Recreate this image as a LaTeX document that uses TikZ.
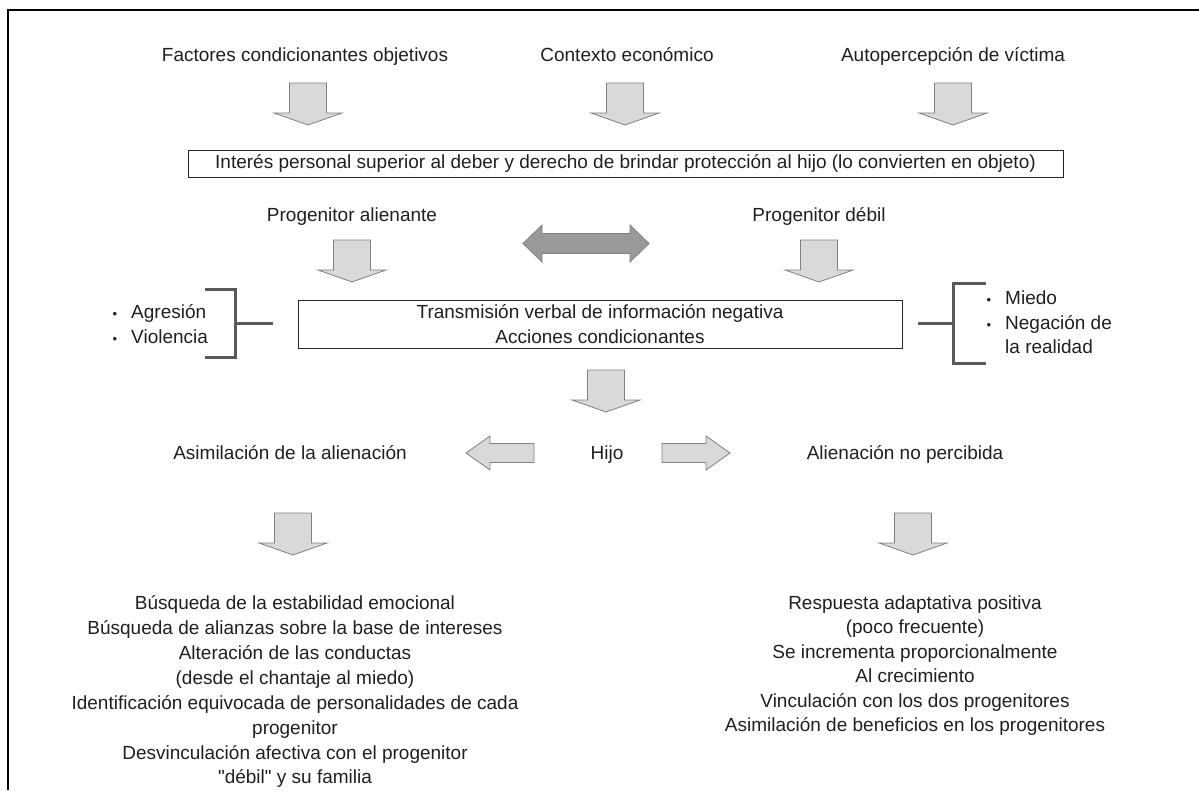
\documentclass[tikz,border=0pt]{standalone}
\usepackage{fontspec}
\setmainfont{Liberation Sans}[Ligatures=TeXOff]
\begin{document}
\begin{tikzpicture}[x=1pt,y=-1pt,
  txt/.style={inner sep=0pt,anchor=base,text=black!88},
  blk/.style={fill=black!15,draw=black!50,line width=0.8pt,line join=miter},
  dbl/.style={fill=black!40,draw=black!50,line width=0.8pt},
  brk/.style={draw=black!65,line width=3pt},
  boxn/.style={draw=black!85,line width=1pt,inner sep=0pt,text=black!88}]
\useasboundingbox (0,0) rectangle (1199,790);
\fontsize{19}{25}\selectfont
% frame
\draw[line width=1.6pt] (8,790) -- (8,10) -- (1199,10);
% blocks
\newcommand\blkdown[2]{\draw[blk,shift={(#1,#2)}] (-18.5,0) -- (18.5,0) -- (18.5,30) -- (34,30) -- (0,42) -- (-34,30) -- (-18.5,30) -- cycle;}
% row 1
\node[txt] (t1) at (305,61) {Factores condicionantes objetivos};
\node[txt] (t2) at (627,61) {Contexto económico};
\node[txt] (t3) at (953,61) {Autopercepción de víctima};
\blkdown{308}{83}
\blkdown{625}{83}
\blkdown{953}{83}
\node[boxn,minimum width=875pt,minimum height=27pt] (b1) at (625.5,163.5)
  {Interés personal superior al deber y derecho de brindar protección al hijo (lo convierten en objeto)};
% row 2
\node[txt] (pa) at (352,221) {Progenitor alienante};
\node[txt] (pd) at (819,221) {Progenitor débil};
\draw[dbl] (523,243.5) -- (542,225) -- (542,233.5) -- (630,233.5) -- (630,225) -- (649,243.5)
  -- (630,262) -- (630,253.5) -- (542,253.5) -- (542,262) -- cycle;
\blkdown{352}{240}
\blkdown{819}{240}
\node[boxn,minimum width=604pt,minimum height=48pt,align=center] (b2) at (600,324)
  {Transmisión verbal de información negativa\\Acciones condicionantes};
% left bracket
\draw[brk] (205,289) -- (235,289) -- (235,357) -- (205,357);
\draw[brk] (235,323) -- (273,323);
\node[txt] (bl1) at (115,318) {\fontsize{13}{15}\selectfont •};
\node[txt] (bl2) at (115,343) {\fontsize{13}{15}\selectfont •};
\node[txt,anchor=base west] (ag) at (131,318) {Agresión};
\node[txt,anchor=base west] (vi) at (131,343) {Violencia};
% right bracket
\draw[brk] (986,283) -- (953,283) -- (953,363) -- (986,363);
\draw[brk] (918,323) -- (953,323);
\node[txt] (br1) at (989,304) {\fontsize{13}{15}\selectfont •};
\node[txt] (br2) at (989,329) {\fontsize{13}{15}\selectfont •};
\node[txt,anchor=base west] (mi) at (1005,304) {Miedo};
\node[txt,anchor=base west] (ne) at (1005,329) {Negación de};
\node[txt,anchor=base west] (re) at (1005,353) {la realidad};
% row 3
\blkdown{606}{370}
\node[txt] (hijo) at (607,459) {Hijo};
\node[txt] (asim) at (290,459) {Asimilación de la alienación};
\node[txt] (anp) at (905,459) {Alienación no percibida};
\draw[blk,shift={(466,453)}] (0,0) -- (24,-17) -- (24,-9.5) -- (68,-9.5) -- (68,9.5) -- (24,9.5) -- (24,17) -- cycle;
\draw[blk,shift={(730,453)}] (0,0) -- (-24,-17) -- (-24,-9.5) -- (-68,-9.5) -- (-68,9.5) -- (-24,9.5) -- (-24,17) -- cycle;
% row 4
\blkdown{293}{513}
\blkdown{913}{513}
\node[txt] (l1) at (295,609) {Búsqueda de la estabilidad emocional};
\node[txt] (l2) at (295,634) {Búsqueda de alianzas sobre la base de intereses};
\node[txt] (l3) at (295,659) {Alteración de las conductas};
\node[txt] (l4) at (295,684) {(desde el chantaje al miedo)};
\node[txt] (l5) at (295,709) {Identificación equivocada de personalidades de cada};
\node[txt] (l6) at (295,734) {progenitor};
\node[txt] (l7) at (295,759) {Desvinculación afectiva con el progenitor};
\node[txt] (l8) at (295,783) {"débil" y su familia};
\node[txt] (r1) at (915,609) {Respuesta adaptativa positiva};
\node[txt] (r2) at (915,633.5) {(poco frecuente)};
\node[txt] (r3) at (915,658) {Se incrementa proporcionalmente};
\node[txt] (r4) at (915,682.5) {Al crecimiento};
\node[txt] (r5) at (915,707) {Vinculación con los dos progenitores};
\node[txt] (r6) at (915,731.5) {Asimilación de beneficios en los progenitores};
\end{tikzpicture}
\end{document}
